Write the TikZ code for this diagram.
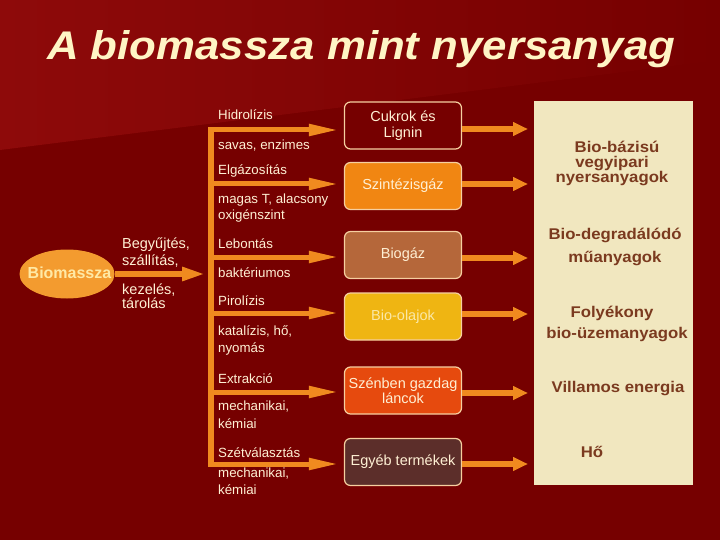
\documentclass[tikz,border=0pt]{standalone}
\usepackage{fontspec}
\setmainfont{Liberation Sans}
\newfontfamily\titlefont[FakeStretch=1.095]{Liberation Sans}
\newfontfamily\panelfont[FakeStretch=1.08]{Liberation Sans}
\usetikzlibrary{arrows.meta,shapes.geometric}
\definecolor{bgdark}{HTML}{760000}
\definecolor{bglight}{HTML}{8E0A0A}
\definecolor{arr}{HTML}{F08A1F}
\definecolor{cream}{HTML}{FFF0D4}
\definecolor{titlec}{HTML}{FFF5C5}
\definecolor{ellc}{HTML}{F39B2F}
\definecolor{elltext}{HTML}{FFE9A5}
\definecolor{boxborder}{HTML}{F6CFA0}
\definecolor{boxA}{HTML}{760000}
\definecolor{boxB}{HTML}{F18612}
\definecolor{boxC}{HTML}{B5673A}
\definecolor{boxD}{HTML}{EFB512}
\definecolor{boxE}{HTML}{E64A0E}
\definecolor{boxF}{HTML}{5C2E2A}
\definecolor{panelc}{HTML}{F1E7BF}
\definecolor{paneltext}{HTML}{7B3A1F}
\tikzset{
  lab/.style={anchor=base west, inner sep=0pt, text=cream, font=\fontsize{13.3}{16}\selectfont},
  glab/.style={anchor=base west, inner sep=0pt, text=cream, font=\fontsize{14.5}{17}\selectfont},
  ptext/.style={anchor=base, inner sep=0pt, text=paneltext, font=\panelfont\bfseries\fontsize{15.5}{17}\selectfont},
  prodbox/.style={rounded corners=6pt, minimum width=117pt, minimum height=47pt, draw=boxborder, line width=1.2pt, align=center, inner sep=2pt, font=\fontsize{14.5}{15.5}\selectfont},
  arrA/.style={draw=arr, line width=5pt, -{Triangle[length=30pt,width=11pt]}, shorten >=5pt},
  arrB/.style={draw=arr, line width=5.5pt, -{Triangle[length=23pt,width=13pt]}},
  arrC/.style={draw=arr, line width=6pt, -{Triangle[length=15pt,width=13pt]}, shorten >=6pt},
  barline/.style={draw=arr, line width=5.5pt}
}
\begin{document}
\begin{tikzpicture}[x=1pt,y=-1pt]
\useasboundingbox (0,0) rectangle (720,540);
% background
\fill[bgdark] (0,0) rectangle (720,540);
\shade[left color=bglight, right color=bgdark] (0,0) -- (720,0) -- (720,60) -- (0,150) -- cycle;
% title
\node[anchor=base west, inner sep=0pt, text=titlec, font=\titlefont\bfseries\itshape\fontsize{40}{44}\selectfont] (title) at (47,60) {A biomassza mint nyersanyag};
% biomass ellipse
\node[ellipse, fill=ellc, minimum width=95pt, minimum height=49pt, inner sep=0pt] (bio) at (67,274) {};
\node[inner sep=0pt, text=elltext, font=\bfseries\fontsize{16}{18}\selectfont] (biotext) at (69.5,273) {Biomassza};
\coordinate (bioend) at (205,274);
\draw[arrB] (bio.east) -- (bioend);
\node[glab] (g1) at (122,248) {Begyűjtés,};
\node[glab] (g2) at (122,265) {szállítás,};
\node[glab] (g3) at (122,294) {kezelés,};
\node[glab] (g4) at (122,308) {tárolás};
% product boxes
\node[prodbox, fill=boxA, text=cream] (box1) at (403,125.5) {Cukrok és\\Lignin};
\node[prodbox, fill=boxB, text=cream] (box2) at (403,186) {Szintézisgáz};
\node[prodbox, fill=boxC, text=cream] (box3) at (403,255) {Biogáz};
\node[prodbox, fill=boxD, text={rgb,255:red,250;green,232;blue,168}] (box4) at (403,316.5) {Bio-olajok};
\node[prodbox, fill=boxE, text=cream] (box5) at (403,390.5) {Szénben gazdag\\láncok};
\node[prodbox, fill=boxF, text=cream] (box6) at (403,462) {Egyéb termékek};
% panel
\node[fill=panelc, minimum width=159pt, minimum height=384pt, inner sep=0pt, anchor=north west] (panel) at (534,101) {};
% vertical bar and branch arrows
\coordinate (bartop) at (211,127.5);
\coordinate (barbot) at (211,466.5);
\draw[barline] (bartop) -- (barbot);
\coordinate (l1) at (211,130);
\coordinate (l2) at (211,184);
\coordinate (l3) at (211,257);
\coordinate (l4) at (211,313);
\coordinate (l5) at (211,392);
\coordinate (l6) at (211,464);
\draw[arrA] (l1) -- (l1 -| box1.west);
\draw[arrA] (l2) -- (l2 -| box2.west);
\draw[arrA] (l3) -- (l3 -| box3.west);
\draw[arrA] (l4) -- (l4 -| box4.west);
\draw[arrA] (l5) -- (l5 -| box5.west);
\draw[arrA] (l6) -- (l6 -| box6.west);
% right arrows
\coordinate (r1) at (0,129);
\coordinate (r2) at (0,184);
\coordinate (r3) at (0,258);
\coordinate (r4) at (0,314);
\coordinate (r5) at (0,393);
\coordinate (r6) at (0,464);
\draw[arrC] (box1.east |- r1) -- (panel.west |- r1);
\draw[arrC] (box2.east |- r2) -- (panel.west |- r2);
\draw[arrC] (box3.east |- r3) -- (panel.west |- r3);
\draw[arrC] (box4.east |- r4) -- (panel.west |- r4);
\draw[arrC] (box5.east |- r5) -- (panel.west |- r5);
\draw[arrC] (box6.east |- r6) -- (panel.west |- r6);
% process labels
\node[lab] (t1) at (218,120) {Hidrolízis};
\node[lab] (t2) at (218,150) {savas, enzimes};
\node[lab] (t3) at (218,175) {Elgázosítás};
\node[lab] (t4) at (218,204) {magas T, alacsony};
\node[lab] (t5) at (218,220) {oxigénszint};
\node[lab] (t6) at (218,248) {Lebontás};
\node[lab] (t7) at (218,277) {baktériumos};
\node[lab] (t8) at (218,305) {Pirolízis};
\node[lab] (t9) at (218,335) {katalízis, hő,};
\node[lab] (t10) at (218,352) {nyomás};
\node[lab] (t11) at (218,383) {Extrakció};
\node[lab] (t12) at (218,410) {mechanikai,};
\node[lab] (t13) at (218,428) {kémiai};
\node[lab] (t14) at (218,457) {Szétválasztás};
\node[lab] (t15) at (218,477) {mechanikai,};
\node[lab] (t16) at (218,494) {kémiai};
% panel texts
\node[ptext] (p1) at (617,153) {Bio-bázisú};
\node[ptext] (p2) at (612,168) {vegyipari};
\node[ptext] (p3) at (612,183) {nyersanyagok};
\node[ptext] (p4) at (615,240) {Bio-degradálódó};
\node[ptext] (p5) at (615,262) {műanyagok};
\node[ptext] (p6) at (612,317) {Folyékony};
\node[ptext] (p7) at (617,338) {bio-üzemanyagok};
\node[ptext] (p8) at (618,392) {Villamos energia};
\node[ptext] (p9) at (592,457) {Hő};
\end{tikzpicture}
\end{document}
